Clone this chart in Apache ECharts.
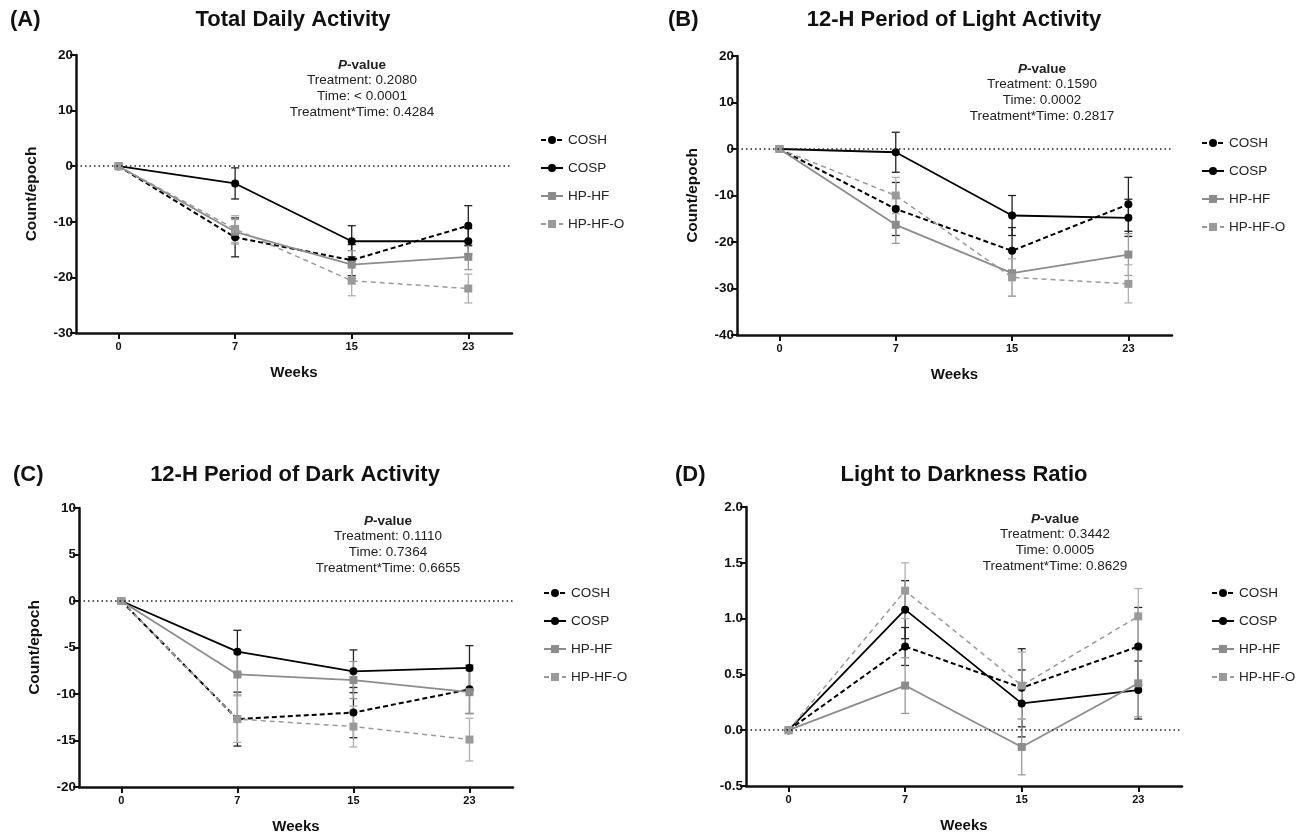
<!DOCTYPE html>
<html>
<head>
<meta charset="utf-8">
<script src="https://cdn.jsdelivr.net/npm/echarts@6/dist/echarts.min.js"></script>
<style>
html,body{margin:0;padding:0;background:#fff;}
#chart{width:1302px;height:837px;}
</style>
</head>
<body>
<div id="chart"></div>
<script>
// ---- data ----
const weeks = ['0', '7', '15', '23'];
const groupNames = ['COSH', 'COSP', 'HP-HF', 'HP-HF-O'];

// (A) Total Daily Activity
const totalCOSH = [0, -12.8, -16.9, -10.7];
const totalCOSHErr = [0, 3.5, 2.8, 3.6];
const totalCOSP = [0, -3.1, -13.5, -13.5];
const totalCOSPErr = [0, 2.8, 2.8, 2.3];
const totalHPHF = [0, -11.8, -17.7, -16.3];
const totalHPHFErr = [0, 2.2, 2.5, 2.3];
const totalHPHFO = [0, -11.3, -20.6, -22.0];
const totalHPHFOErr = [0, 2.4, 2.7, 2.6];

// (B) 12-H Period of Light Activity
const lightCOSH = [0, -12.9, -21.9, -11.9];
const lightCOSHErr = [0, 5.7, 5.0, 5.8];
const lightCOSP = [0, -0.7, -14.3, -14.8];
const lightCOSPErr = [0, 4.3, 4.3, 4.0];
const lightHPHF = [0, -16.3, -26.7, -22.7];
const lightHPHFErr = [0, 4.0, 5.0, 4.5];
const lightHPHFO = [0, -10.0, -27.6, -29.0];
const lightHPHFOErr = [0, 3.9, 4.0, 4.1];

// (C) 12-H Period of Dark Activity
const darkCOSH = [0, -12.7, -12.0, -9.5];
const darkCOSHErr = [0, 2.9, 2.7, 2.6];
const darkCOSP = [0, -5.45, -7.56, -7.2];
const darkCOSPErr = [0, 2.3, 2.3, 2.4];
const darkHPHF = [0, -7.9, -8.5, -9.8];
const darkHPHFErr = [0, 2.2, 2.0, 2.3];
const darkHPHFO = [0, -12.7, -13.5, -14.9];
const darkHPHFOErr = [0, 2.5, 2.2, 2.3];

// (D) Light to Darkness Ratio
const ratioCOSH = [0, 0.75, 0.38, 0.75];
const ratioCOSHErr = [0, 0.17, 0.35, 0.35];
const ratioCOSP = [0, 1.08, 0.24, 0.36];
const ratioCOSPErr = [0, 0.26, 0.30, 0.26];
const ratioHPHF = [0, 0.40, -0.15, 0.42];
const ratioHPHFErr = [0, 0.25, 0.25, 0.30];
const ratioHPHFO = [0, 1.25, 0.40, 1.02];
const ratioHPHFOErr = [0, 0.25, 0.30, 0.25];

const panelTitles = ['Total Daily Activity', '12-H Period of Light Activity', '12-H Period of Dark Activity', 'Light to Darkness Ratio'];
const panelLetters = ['(A)', '(B)', '(C)', '(D)'];
const pTreatment = ['0.2080', '0.1590', '0.1110', '0.3442'];
const pTime = ['< 0.0001', '0.0002', '0.7364', '0.0005'];
const pInteraction = ['0.4284', '0.2817', '0.6655', '0.8629'];
const yMins = [-30, -40, -20, -0.5];
const yMaxs = [20, 20, 10, 2.0];
const yIntervals = [10, 10, 5, 0.5];

// ---- layout / style ----
const FONT = '"Liberation Sans", Arial, Helvetica, sans-serif';
const grids = [
  {left: 76, top: 55, width: 436, height: 278},
  {left: 737, top: 56, width: 435, height: 279},
  {left: 79, top: 508, width: 434, height: 279},
  {left: 746, top: 507, width: 436, height: 279}
];
const titlePos = [[10, 293, 20], [668, 954, 20], [13, 295, 475], [675, 964, 475]];
const pPos = [[362, 65], [1042, 69], [388, 521], [1055, 519]];
const legendPos = [[535, 128], [1196, 131], [538, 581], [1206, 581]];

const styles = {
  'COSH': {color: '#000', symbol: 'circle', line: [5, 3], width: 2, err: '#222'},
  'COSP': {color: '#000', symbol: 'circle', line: 'solid', width: 1.8, err: '#222'},
  'HP-HF': {color: '#8c8c8c', symbol: 'rect', line: 'solid', width: 1.8, err: '#9a9a9a'},
  'HP-HF-O': {color: '#9a9a9a', symbol: 'rect', line: [5, 4], width: 1.5, err: '#b0b0b0'}
};

const panelData = [
  [[totalCOSH, totalCOSHErr], [totalCOSP, totalCOSPErr], [totalHPHF, totalHPHFErr], [totalHPHFO, totalHPHFOErr]],
  [[lightCOSH, lightCOSHErr], [lightCOSP, lightCOSPErr], [lightHPHF, lightHPHFErr], [lightHPHFO, lightHPHFOErr]],
  [[darkCOSH, darkCOSHErr], [darkCOSP, darkCOSPErr], [darkHPHF, darkHPHFErr], [darkHPHFO, darkHPHFOErr]],
  [[ratioCOSH, ratioCOSHErr], [ratioCOSP, ratioCOSPErr], [ratioHPHF, ratioHPHFErr], [ratioHPHFO, ratioHPHFOErr]]
];

function makeErrRender(color) {
  return function (params, api) {
    const x = api.value(0), lo = api.value(1), hi = api.value(2);
    if (hi === lo) return null;
    const p1 = api.coord([x, hi]);
    const p2 = api.coord([x, lo]);
    const cw = 4;
    const st = {stroke: color, lineWidth: 1.3};
    return {
      type: 'group',
      children: [
        {type: 'line', shape: {x1: p1[0], y1: p1[1], x2: p2[0], y2: p2[1]}, style: st},
        {type: 'line', shape: {x1: p1[0] - cw, y1: p1[1], x2: p1[0] + cw, y2: p1[1]}, style: st},
        {type: 'line', shape: {x1: p2[0] - cw, y1: p2[1], x2: p2[0] + cw, y2: p2[1]}, style: st}
      ]
    };
  };
}

const option = {
  animation: false,
  backgroundColor: '#fff',
  textStyle: {fontFamily: FONT},
  grid: grids.map(g => Object.assign({containLabel: false}, g)),
  xAxis: [], yAxis: [], series: [], legend: [], graphic: []
};

for (let p = 0; p < 4; p++) {
  option.xAxis.push({
    type: 'value', gridIndex: p, min: -0.365, max: 3.375,
    name: 'Weeks', nameLocation: 'middle', nameGap: 32,
    nameTextStyle: {fontFamily: FONT, fontWeight: 'bold', fontSize: 15, color: '#111'},
    axisLine: {show: true, onZero: false, lineStyle: {color: '#111', width: 2.5}},
    axisTick: {show: true, length: 6, inside: false, lineStyle: {color: '#111', width: 2}, customValues: [0, 1, 2, 3]},
    axisLabel: {show: true, customValues: [0, 1, 2, 3], margin: 8, fontFamily: FONT, fontWeight: 'bold', fontSize: 11, color: '#111',
      formatter: v => weeks[Math.round(v)]},
    splitLine: {show: false}
  });
  option.yAxis.push({
    type: 'value', gridIndex: p, min: yMins[p], max: yMaxs[p], interval: yIntervals[p],
    name: p === 3 ? '' : 'Count/epoch', nameLocation: 'middle', nameGap: 36,
    nameTextStyle: {fontFamily: FONT, fontWeight: 'bold', fontSize: 15.5, color: '#111'},
    axisLine: {show: true, onZero: false, lineStyle: {color: '#111', width: 2.5}},
    axisTick: {show: true, length: 6, inside: false, lineStyle: {color: '#111', width: 2}},
    axisLabel: {margin: 3, fontFamily: FONT, fontWeight: 'bold', fontSize: 13.5, color: '#111',
      formatter: v => (p === 3 ? v.toFixed(1) : String(v))},
    splitLine: {show: false}
  });

  groupNames.forEach((name, k) => {
    const st = styles[name];
    const means = panelData[p][k][0];
    const errs = panelData[p][k][1];
    option.series.push({
      type: 'custom', name: name + ' SEM', xAxisIndex: p, yAxisIndex: p, z: 1,
      renderItem: makeErrRender(st.err),
      encode: {x: 0, y: [1, 2]},
      data: means.map((m, i) => [i, m - errs[i], m + errs[i]]),
      silent: true
    });
  });
  groupNames.forEach((name, k) => {
    const st = styles[name];
    const means = panelData[p][k][0];
    const s = {
      type: 'line', name: name, xAxisIndex: p, yAxisIndex: p, z: 3,
      data: means.map((m, i) => [i, m]),
      symbol: st.symbol, symbolSize: 8, showSymbol: true,
      itemStyle: {color: st.color},
      lineStyle: {color: st.color, width: st.width, type: st.line},
      silent: true
    };
    if (k === 0) {
      s.markLine = {
        silent: true, symbol: ['none', 'none'], label: {show: false},
        lineStyle: {color: '#222', width: 1.5, type: [1.5, 3]},
        data: [{yAxis: 0}]
      };
    }
    option.series.push(s);
  });

  option.legend.push({
    orient: 'vertical', left: legendPos[p][0], top: legendPos[p][1],
    data: groupNames, selectedMode: false,
    itemWidth: 22, itemHeight: 10, itemGap: 14,
    textStyle: {fontFamily: FONT, fontSize: 13.5, color: '#222', lineHeight: 14}
  });

  option.graphic.push({
    type: 'text', x: titlePos[p][0], y: titlePos[p][2],
    style: {text: panelLetters[p], font: 'bold 22px ' + FONT, fill: '#111', textAlign: 'left', textVerticalAlign: 'middle'}
  });
  option.graphic.push({
    type: 'text', x: titlePos[p][1], y: titlePos[p][2],
    style: {text: panelTitles[p], font: 'bold 22px ' + FONT, fill: '#111', textAlign: 'center', textVerticalAlign: 'middle'}
  });
  const lines = ['Treatment: ' + pTreatment[p], 'Time: ' + pTime[p], 'Treatment*Time: ' + pInteraction[p]];
  option.graphic.push({
    type: 'text', x: pPos[p][0], y: pPos[p][1],
    style: {
      text: '{pi|P}{pb|-value}', textAlign: 'center', textVerticalAlign: 'middle',
      rich: {
        pi: {fontFamily: FONT, fontSize: 13.5, fontWeight: 'bold', fontStyle: 'italic', fill: '#222', color: '#222'},
        pb: {fontFamily: FONT, fontSize: 13.5, fontWeight: 'bold', fill: '#222', color: '#222'}
      }
    }
  });
  lines.forEach((t, i) => {
    option.graphic.push({
      type: 'text', x: pPos[p][0], y: pPos[p][1] + 15.6 * (i + 1),
      style: {text: t, font: '13.5px ' + FONT, fill: '#222', textAlign: 'center', textVerticalAlign: 'middle'}
    });
  });
}

const chart = echarts.init(document.getElementById('chart'), null, {renderer: 'canvas'});
chart.setOption(option);
</script>
</body>
</html>
